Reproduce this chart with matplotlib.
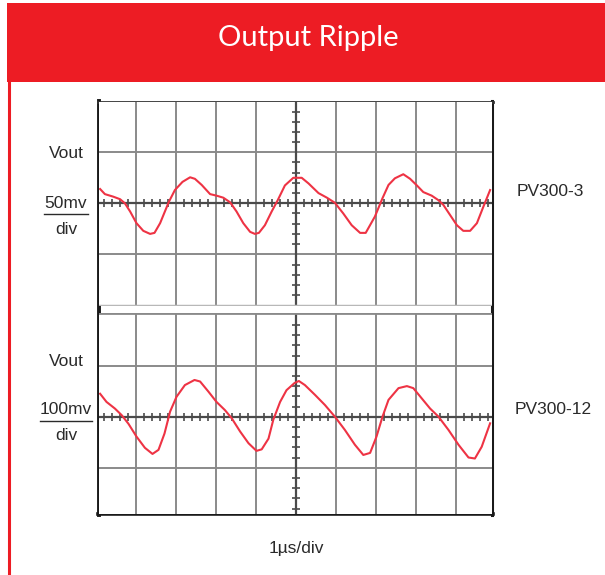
import numpy as np
import matplotlib
matplotlib.use('Agg')
import matplotlib.pyplot as plt
from matplotlib.patches import Rectangle

# 파형 데이터 (가로: 눈금 칸, 세로: 눈금 칸, 중심선 기준)
top_x = [0.11, 0.23, 0.44, 0.61, 0.73, 0.86, 1.02, 1.19, 1.36, 1.47, 1.61, 1.73, 1.83, 1.98,
         2.17, 2.36, 2.48, 2.65, 2.86, 3.02, 3.19, 3.36, 3.52, 3.69, 3.86, 3.98, 4.08, 4.23,
         4.40, 4.55, 4.73, 4.94, 5.15, 5.32, 5.57, 5.78, 5.98, 6.19, 6.40, 6.61, 6.75, 6.98,
         7.17, 7.32, 7.48, 7.69, 7.86, 8.03, 8.19, 8.40, 8.57, 8.69, 8.86, 9.03, 9.19, 9.36,
         9.53, 9.69, 9.86]
top_y = [0.28, 0.18, 0.13, 0.08, 0.00, -0.16, -0.39, -0.54, -0.60, -0.58, -0.39, -0.16, 0.03, 0.26,
         0.42, 0.51, 0.48, 0.36, 0.18, 0.15, 0.11, 0.02, -0.16, -0.39, -0.56, -0.60, -0.58, -0.43,
         -0.16, 0.06, 0.35, 0.50, 0.50, 0.39, 0.20, 0.11, 0.01, -0.20, -0.43, -0.58, -0.58, -0.26,
         0.10, 0.36, 0.49, 0.57, 0.48, 0.35, 0.22, 0.15, 0.06, -0.03, -0.23, -0.43, -0.54, -0.54,
         -0.39, -0.07, 0.26]

bot_x = [0.11, 0.27, 0.48, 0.65, 0.82, 1.02, 1.23, 1.42, 1.57, 1.72, 1.86, 2.02, 2.23, 2.47,
         2.61, 2.82, 3.02, 3.23, 3.40, 3.61, 3.82, 4.02, 4.15, 4.32, 4.44, 4.61, 4.77, 4.97,
         5.08, 5.23, 5.48, 5.73, 5.98, 6.23, 6.48, 6.69, 6.86, 7.02, 7.17, 7.32, 7.57, 7.78,
         7.94, 8.15, 8.36, 8.57, 8.82, 9.07, 9.32, 9.48, 9.65, 9.86]
bot_y = [0.45, 0.29, 0.16, 0.03, -0.14, -0.39, -0.61, -0.73, -0.65, -0.33, 0.10, 0.39, 0.62, 0.72,
         0.69, 0.49, 0.29, 0.13, -0.03, -0.29, -0.52, -0.67, -0.64, -0.43, -0.06, 0.29, 0.52, 0.66,
         0.70, 0.62, 0.43, 0.23, 0.00, -0.26, -0.55, -0.75, -0.71, -0.39, 0.00, 0.33, 0.56, 0.60,
         0.56, 0.36, 0.16, 0.00, -0.26, -0.55, -0.80, -0.82, -0.59, -0.13]

title = 'Output Ripple'
scale_labels = ['50mv', '100mv']
part_labels = ['PV300-3', 'PV300-12']
time_label = '1\u00b5s/div'

RED = '#ed1c24'
TRACE = '#ee3344'
GRID = '#8a8a8a'
AXIS = '#4a4a4a'
labfont = ['Liberation Sans', 'DejaVu Sans']

W, H = 605, 575
fig = plt.figure(figsize=(W / 100, H / 100), dpi=100)

# 배경 (픽셀 좌표)
bg = fig.add_axes([0, 0, 1, 1])
bg.set_xlim(0, W)
bg.set_ylim(H, 0)
bg.axis('off')
bg.add_patch(Rectangle((7, 3), W - 7, 79, color=RED, lw=0, zorder=0))
bg.plot([9, 9], [82, H], color=RED, lw=2.2)
bg.text(308, 38, title, color='white', ha='center', va='center', fontsize=21,
        family=['Lato', 'Open Sans', 'DejaVu Sans'], zorder=5)


def scope(top_px, bot_px, center_px, xs, ys, bottom_color=None, top_color=None):
    ax = fig.add_axes([99 / W, (H - bot_px) / H, 393 / W, (bot_px - top_px) / H])
    ax.set_xlim((99 - 95.7) / 40, (492 - 95.7) / 40)
    ax.set_ylim((center_px - bot_px) / 51, (center_px - top_px) / 51)
    ax.set_xticks([])
    ax.set_yticks([])
    for s in ax.spines.values():
        s.set_visible(False)
    for gx in [1, 2, 3, 4, 6, 7, 8, 9]:
        ax.axvline(gx, color=GRID, lw=1.4, zorder=1)
    for gy in [-1, 1]:
        ax.axhline(gy, color=GRID, lw=1.4, zorder=1)
    ax.axhline(0, color=AXIS, lw=1.6, zorder=2)
    ax.axvline(5, color=AXIS, lw=1.6, zorder=2)
    minor = np.arange(0.2, 10, 0.2)
    minor = minor[np.abs(minor - np.round(minor)) > 0.05]
    ax.vlines(minor, -0.08, 0.08, color=AXIS, lw=1.2, zorder=2)
    ym = np.arange(-2.0, 2.01, 0.2)
    ym = ym[np.abs(ym - np.round(ym)) > 0.05]
    ax.hlines(ym, 4.9, 5.1, color=AXIS, lw=1.2, zorder=2)
    if bottom_color:
        ax.axhline(ax.get_ylim()[0], color=bottom_color, lw=2.5, zorder=3)
    if top_color:
        ax.axhline(ax.get_ylim()[1], color=top_color, lw=2.0, zorder=3)
    ax.plot(xs, ys, color=TRACE, lw=1.5, zorder=4)
    return ax


scope(102, 305.5, 203.3, top_x, top_y, bottom_color='#b8b8b8')
scope(313, 514, 416.7, bot_x, bot_y, top_color='#8a8a8a')

# 바깥 테두리
bg.plot([99, 99], [101, 515], color='#1a1a1a', lw=2.8)
bg.plot([492, 492], [101, 515], color='#1a1a1a', lw=2.2)
bg.plot([98, 493], [102, 102], color='#333333', lw=2.0)
bg.plot([98, 493], [514, 514], color='#1a1a1a', lw=2.6)

# 라벨
lab = dict(ha='center', va='center', fontsize=12.5, family=labfont, color='#2a2a2a')
bg.text(66, 154, 'Vout', **lab)
bg.text(66, 204, scale_labels[0], **lab)
bg.plot([44, 88], [214, 214], color='#2a2a2a', lw=1.0)
bg.text(66, 229, 'div', **lab)
bg.text(66, 362, 'Vout', **lab)
bg.text(66, 410, scale_labels[1], **lab)
bg.plot([40, 92], [421, 421], color='#2a2a2a', lw=1.0)
bg.text(66, 436, 'div', **lab)
bg.text(550, 192, part_labels[0], **lab)
bg.text(553, 410, part_labels[1], **lab)
bg.text(296, 548, time_label, **lab)

fig.savefig('out.png', dpi=100)
